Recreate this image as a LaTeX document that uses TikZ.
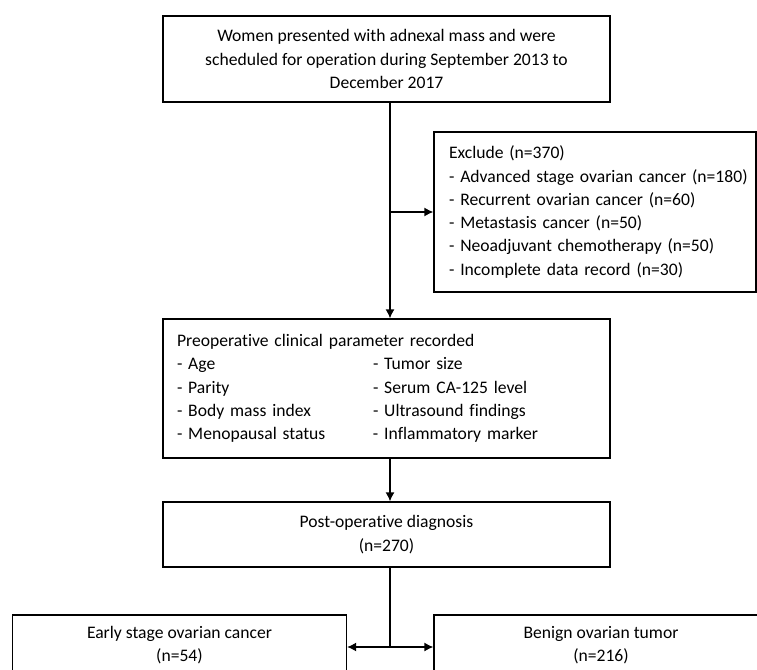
\documentclass[tikz,border=0pt]{standalone}
\usepackage{fontspec}
\setmainfont{Carlito}[Ligatures=NoCommon]
\usetikzlibrary{arrows.meta}

\begin{document}
\begin{tikzpicture}[x=1pt,y=-1pt,
        box/.style={draw, line width=1.3pt, inner sep=0pt, font=\fontsize{17.6}{23.3}\selectfont},
        arr/.style={line width=1.3pt, -{Latex[length=9pt,width=9pt]}}]
        \useasboundingbox (0,0) rectangle (757,669);
        \clip (0,0) rectangle (757,669);
        \node[box, minimum width=447pt, minimum height=86pt, align=center] (women) at (386.5,59)
            {Women presented with adnexal mass and were\\scheduled for operation during September 2013 to\\December 2017};
        \node[box, text width=292pt, inner xsep=15pt, minimum height=160pt, align=left] (exclude) at (595,212)
            {Exclude (n=370)\\\mbox{- Advanced stage ovarian cancer (n=180)}\\- Recurrent ovarian cancer (n=60)\\- Metastasis cancer (n=50)\\- Neoadjuvant chemotherapy (n=50)\\- Incomplete data record (n=30)};
        \node[box, text width=419pt, inner xsep=14pt, minimum height=139pt, align=left] (preop) at (386.5,388.5)
            {Preoperative clinical parameter recorded\\
             \makebox[196pt][l]{- Age}- Tumor size\\
             \makebox[196pt][l]{- Parity}- Serum CA-125 level\\
             \makebox[196pt][l]{- Body mass index}- Ultrasound findings\\
             \makebox[196pt][l]{- Menopausal status}- Inflammatory marker};
        \node[box, minimum width=447pt, minimum height=65pt, align=center] (postop) at (386.5,534.5)
            {Post-operative diagnosis\\(n=270)};
        \node[box, minimum width=334pt, minimum height=60pt, align=center] (early) at (179.5,645)
            {Early stage ovarian cancer\\(n=54)};
        \node[box, minimum width=334pt, minimum height=60pt, align=center] (benign) at (601,645)
            {Benign ovarian tumor\\(n=216)};
        \coordinate (spine) at (390,0);
        \coordinate (split) at (390,647);
        % main line
        \draw[arr] (women.south -| spine) -- (preop.north -| spine);
        \draw[arr] (spine |- exclude.west) -- (exclude.west);
        \draw[arr] (preop.south -| spine) -- (postop.north -| spine);
        \draw[line width=1.3pt] (postop.south -| spine) -- (split);
        \draw[arr] (split) -- (split -| early.east);
        \draw[arr] (split) -- (split -| benign.west);
\end{tikzpicture}
\end{document}
